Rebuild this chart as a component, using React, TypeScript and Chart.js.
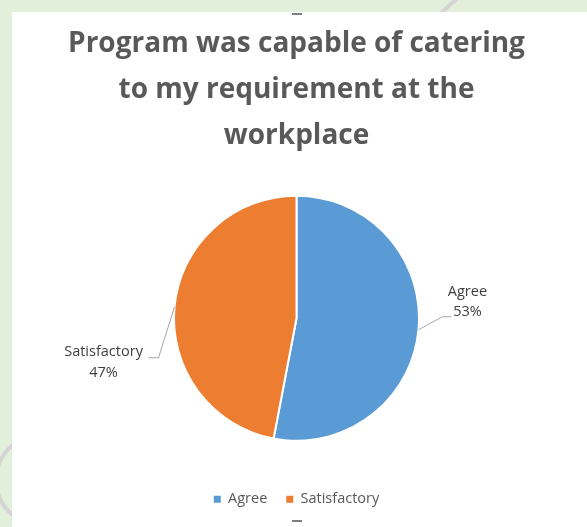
import React, { useEffect, useRef } from "react";
import { Chart, registerables } from "chart.js";

Chart.register(...registerables);

const TITLE_LINES = ["Program was capable of catering", "to my requirement at the", "workplace"];
const CATEGORIES = ["Agree", "Satisfactory"];
const VALUES = [53, 47];
const PERCENT_LABELS = ["53%", "47%"];
const COLORS = ["#5B9BD5", "#ED7D31"];

const FONT = "'Open Sans', 'Liberation Sans', sans-serif";

const RIGHT_LAYOUT = { elbowDx: 24, elbowDy: -13, tail: 9, textDx: 16, line1Dy: -25, line2Dy: -5 };
const LEFT_LAYOUT = { elbowDx: -16, elbowDy: 51, tail: -10, textDx: -45, line1Dy: -6, line2Dy: 15 };

const leaderPlugin = {
  id: "leaderLabels",
  afterDatasetsDraw(chart: any) {
    const ctx = chart.ctx;
    const meta = chart.getDatasetMeta(0);
    meta.data.forEach((arc: any, i: number) => {
      const p = arc.getProps(["x", "y", "startAngle", "endAngle", "outerRadius"], true);
      const mid = (p.startAngle + p.endAngle) / 2;
      const ex = p.x + Math.cos(mid) * p.outerRadius;
      const ey = p.y + Math.sin(mid) * p.outerRadius;
      const L = Math.cos(mid) >= 0 ? RIGHT_LAYOUT : LEFT_LAYOUT;
      const bx = ex + L.elbowDx;
      const by = ey + L.elbowDy;
      const tx = bx + L.tail;
      ctx.save();
      ctx.strokeStyle = "#A6A6A6";
      ctx.lineWidth = 1;
      ctx.beginPath();
      ctx.moveTo(ex, ey);
      ctx.lineTo(bx, by);
      ctx.lineTo(tx, by);
      ctx.stroke();
      ctx.fillStyle = "#404040";
      ctx.font = `14.5px ${FONT}`;
      ctx.textAlign = "center";
      ctx.textBaseline = "middle";
      ctx.fillText(CATEGORIES[i], tx + L.textDx, by + L.line1Dy);
      ctx.fillText(PERCENT_LABELS[i], tx + L.textDx, by + L.line2Dy);
      ctx.restore();
    });
  },
};

export default function App() {
  const ref = useRef<HTMLCanvasElement>(null);

  useEffect(() => {
    document.body.style.margin = "0";
    const chart = new Chart(ref.current!, {
      type: "pie",
      data: {
        labels: CATEGORIES,
        datasets: [
          {
            data: VALUES,
            backgroundColor: COLORS,
            borderColor: "#FFFFFF",
            borderWidth: 2,
            radius: 122.5,
          } as any,
        ],
      },
      options: {
        responsive: false,
        animation: false,
        devicePixelRatio: 1,
        layout: { padding: { top: 0, left: 0, right: 6, bottom: 10.5 } },
        plugins: {
          title: {
            display: true,
            text: TITLE_LINES,
            color: "#595959",
            font: { family: FONT, size: 28, weight: "bold", lineHeight: 46 / 28 },
            padding: { top: 9, bottom: 4.5 },
          },
          legend: {
            position: "bottom",
            labels: {
              boxWidth: 7,
              boxHeight: 7,
              padding: 19,
              color: "#595959",
              font: { family: FONT, size: 14.5 },
              generateLabels: () =>
                CATEGORIES.map((c, i) => ({
                  text: c,
                  fillStyle: COLORS[i],
                  strokeStyle: COLORS[i],
                  lineWidth: 0,
                  hidden: false,
                  index: i,
                  fontColor: "#595959",
                })),
            },
          },
          tooltip: { enabled: false },
        },
      } as any,
      plugins: [leaderPlugin],
    });
    return () => chart.destroy();
  }, []);

  return (
    <div style={{ position: "fixed", left: 0, top: 0, width: 587, height: 527, background: "#E2EFDA", overflow: "hidden" }}>
      <div style={{ position: "absolute", left: -6, top: 433, width: 94, height: 94, boxSizing: "border-box", border: "4px solid #D4D4D4", borderRadius: "50%" }} />
      <div style={{ position: "absolute", left: 392, top: -40, width: 340, height: 340, boxSizing: "border-box", border: "4px solid #D4D4D4", borderRadius: "50%" }} />
      <div style={{ position: "absolute", left: 12, top: 12, width: 575, height: 515, background: "#FFFFFF" }}>
        <canvas ref={ref} width={575} height={515} style={{ display: "block" }} />
      </div>
      <div style={{ position: "absolute", left: 292, top: 13, width: 10, height: 2, background: "#7F7F7F" }} />
      <div style={{ position: "absolute", left: 292, top: 520, width: 10, height: 2, background: "#7F7F7F" }} />
    </div>
  );
}
